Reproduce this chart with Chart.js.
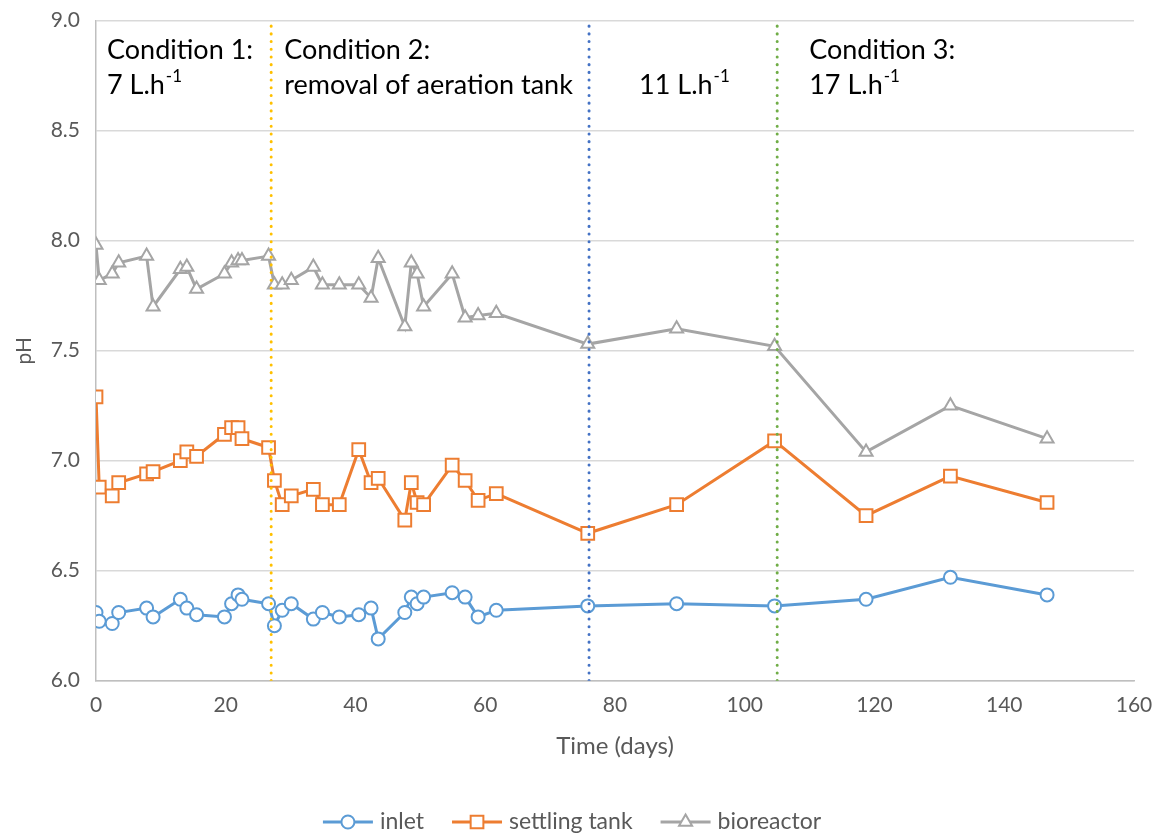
<!DOCTYPE html>
<html>
<head>
<meta charset="utf-8">
<title>pH over time</title>
<script src="https://cdn.jsdelivr.net/npm/chart.js@4.4.1/dist/chart.umd.min.js"></script>
<style>
  html, body { margin: 0; padding: 0; background: #fff; }
  #wrap { width: 1157px; height: 835px; }
</style>
</head>
<body>
<div id="wrap"><canvas id="phChart" width="1157" height="835"></canvas></div>
<script>
// Sampling days (shared by all three series)
const days = [0, 0.5, 2.5, 3.5, 7.8, 8.8, 13, 14, 15.5, 19.8, 20.9, 21.9, 22.5,
  26.6, 27.5, 28.7, 30.1, 33.5, 34.9, 37.5, 40.5, 42.4, 43.5, 47.6, 48.6, 49.5, 50.5,
  54.9, 56.9, 58.9, 61.7, 75.8, 89.5, 104.6, 118.7, 131.7, 146.6];

const inletPH = [6.31, 6.27, 6.26, 6.31, 6.33, 6.29, 6.37, 6.33, 6.30, 6.29, 6.35, 6.39, 6.37,
  6.35, 6.25, 6.32, 6.35, 6.28, 6.31, 6.29, 6.30, 6.33, 6.19, 6.31, 6.38, 6.35, 6.38,
  6.40, 6.38, 6.29, 6.32, 6.34, 6.35, 6.34, 6.37, 6.47, 6.39];

const settlingPH = [7.29, 6.88, 6.84, 6.90, 6.94, 6.95, 7.00, 7.04, 7.02, 7.12, 7.15, 7.15, 7.10,
  7.06, 6.91, 6.80, 6.84, 6.87, 6.80, 6.80, 7.05, 6.90, 6.92, 6.73, 6.90, 6.81, 6.80,
  6.98, 6.91, 6.82, 6.85, 6.67, 6.80, 7.09, 6.75, 6.93, 6.81];

const bioreactorPH = [7.98, 7.82, 7.85, 7.90, 7.93, 7.70, 7.87, 7.88, 7.78, 7.85, 7.90, 7.91, 7.91,
  7.93, 7.80, 7.80, 7.82, 7.88, 7.80, 7.80, 7.80, 7.74, 7.92, 7.61, 7.90, 7.85, 7.70,
  7.85, 7.65, 7.66, 7.67, 7.53, 7.60, 7.52, 7.04, 7.25, 7.10];

const seriesNames = ["inlet", "settling tank", "bioreactor"];
const seriesColors = ["#5B9BD5", "#ED7D31", "#A5A5A5"];
const seriesMarkers = ["circle", "rect", "triangle"];

// Days where the operating condition changed
const conditionDays = [27, 76, 105];
const conditionColors = ["#FFC000", "#4472C4", "#70AD47"];

// Annotation text: each line is [text, superscript]
const conditionText = [
  [["Condition 1:", ""], ["7 L.h", "-1"]],
  [["Condition 2:", ""], ["removal of aeration tank", ""]],
  [["", ""], ["11 L.h", "-1"]],
  [["Condition 3:", ""], ["17 L.h", "-1"]]
];

const xTicks = { min: 0, max: 160, step: 20 };
const yTicks = { min: 6, max: 9, step: 0.5 };

const FONT = "Lato, 'Open Sans', sans-serif";
const markerRadius = { circle: 6.5, rect: 9, triangle: 7.5 };

const toPoints = (ys) => days.map((d, i) => ({ x: d, y: ys[i] }));

// vertical dotted condition lines (drawn on top of the series)
const conditionSets = conditionDays.map((d, i) => ({
  label: "cond" + i,
  data: [{ x: d, y: yTicks.min }, { x: d, y: yTicks.max }],
  borderColor: conditionColors[i],
  borderWidth: 3,
  borderDash: [0.1, 7.6],
  borderCapStyle: "round",
  pointRadius: 0,
  showLine: true,
  fill: false
}));

const seriesSets = [inletPH, settlingPH, bioreactorPH].map((ys, i) => ({
  label: seriesNames[i],
  data: toPoints(ys),
  borderColor: seriesColors[i],
  backgroundColor: "#FFFFFF",
  borderWidth: 3,
  pointStyle: seriesMarkers[i],
  pointRadius: markerRadius[seriesMarkers[i]],
  pointBorderWidth: 2,
  pointBackgroundColor: "#FFFFFF",
  pointBorderColor: seriesColors[i],
  showLine: true,
  tension: 0,
  fill: false
}));

// Condition text in the plot area
const annotationPlugin = {
  id: "conditionText",
  afterDatasetsDraw(chart) {
    const { ctx, chartArea } = chart;
    const xs = chart.scales.x;
    const anchors = [
      chartArea.left + 11,
      xs.getPixelForValue(conditionDays[0]) + 13,
      xs.getPixelForValue(conditionDays[1]) + 50,
      xs.getPixelForValue(conditionDays[2]) + 32
    ];
    const rows = [chartArea.top + 30, chartArea.top + 65];
    ctx.save();
    ctx.fillStyle = "#000000";
    ctx.textBaseline = "middle";
    ctx.textAlign = "left";
    conditionText.forEach((lines, i) => {
      lines.forEach((ln, j) => {
        if (!ln[0]) return;
        ctx.font = "27px " + FONT;
        ctx.fillText(ln[0], anchors[i], rows[j]);
        if (ln[1]) {
          const w = ctx.measureText(ln[0]).width;
          ctx.font = "17px " + FONT;
          ctx.fillText(ln[1], anchors[i] + w + 1, rows[j] - 9);
        }
      });
    });
    ctx.restore();
  }
};

// Legend: line with marker, then name
const legendPlugin = {
  id: "bottomLegend",
  afterDraw(chart) {
    const ctx = chart.ctx;
    const lineLen = 50, gap = 7, spacing = 28, y = 822;
    ctx.save();
    ctx.font = "23px " + FONT;
    const widths = seriesNames.map(n => lineLen + gap + ctx.measureText(n).width);
    const total = widths.reduce((a, b) => a + b, 0) + spacing * (widths.length - 1);
    let x = 572 - total / 2;
    seriesNames.forEach((name, i) => {
      ctx.strokeStyle = seriesColors[i];
      ctx.lineWidth = 3;
      ctx.beginPath();
      ctx.moveTo(x, y);
      ctx.lineTo(x + lineLen, y);
      ctx.stroke();
      ctx.fillStyle = "#FFFFFF";
      ctx.lineWidth = 2;
      Chart.helpers.drawPoint(ctx, {
        pointStyle: seriesMarkers[i],
        radius: markerRadius[seriesMarkers[i]],
        rotation: 0,
        borderWidth: 2
      }, x + lineLen / 2, y);
      ctx.fillStyle = "#595959";
      ctx.textBaseline = "middle";
      ctx.textAlign = "left";
      ctx.font = "23px " + FONT;
      ctx.fillText(name, x + lineLen + gap, y);
      x += widths[i] + spacing;
    });
    ctx.restore();
  }
};

new Chart(document.getElementById("phChart"), {
  type: "scatter",
  data: { datasets: [...conditionSets, ...seriesSets] },
  options: {
    responsive: false,
    animation: false,
    layout: { padding: { left: 0, right: 23, top: 20.7, bottom: 0 } },
    plugins: { legend: { display: false }, tooltip: { enabled: false } },
    scales: {
      x: {
        type: "linear",
        min: xTicks.min,
        max: xTicks.max,
        ticks: { stepSize: xTicks.step, padding: 12, color: "#595959", font: { family: FONT, size: 21 } },
        grid: { display: false, drawTicks: false },
        border: { color: "#BFBFBF", width: 1.5 },
        title: {
          display: true, text: "Time (days)", color: "#595959",
          font: { family: FONT, size: 24 }, padding: { top: 0, bottom: 74 }
        },
        afterFit: (s) => {
          s.height = 835 - 680.7;
          s.paddingLeft = 0;
          s.paddingRight = 0;
        }
      },
      y: {
        min: yTicks.min,
        max: yTicks.max,
        ticks: {
          stepSize: yTicks.step, padding: 16, color: "#595959",
          font: { family: FONT, size: 21 },
          callback: (v) => v.toFixed(1)
        },
        grid: { color: "#D9D9D9", lineWidth: 1.5, drawTicks: false },
        border: { display: true, color: "#BFBFBF", width: 1.5 },
        title: {
          display: true, text: "pH", color: "#595959",
          font: { family: FONT, size: 21 }, padding: { top: 12, bottom: 0 }
        },
        afterFit: (s) => {
          s.width = 96;
          s.paddingTop = 0;
          s.paddingBottom = 0;
        }
      }
    }
  },
  plugins: [annotationPlugin, legendPlugin]
});
</script>
</body>
</html>
